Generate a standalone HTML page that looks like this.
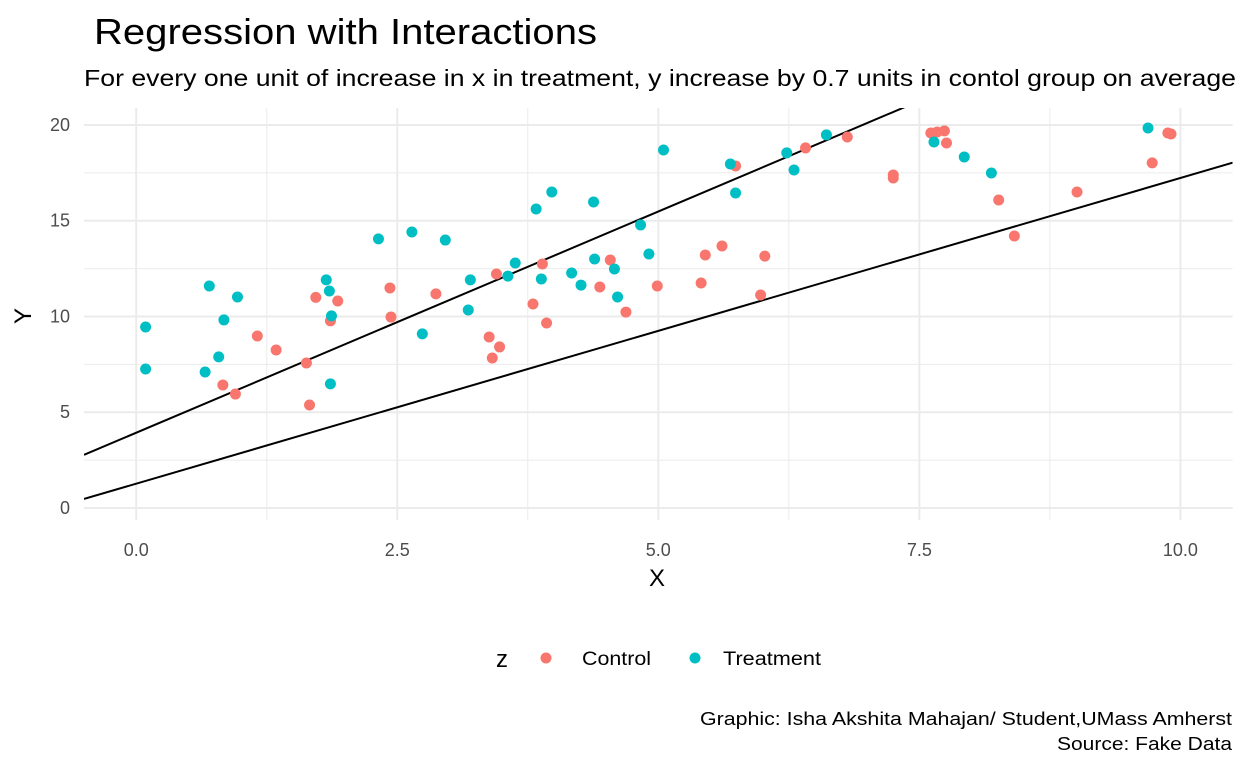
<!DOCTYPE html>
<html><head><meta charset="utf-8"><style>
body{margin:0;background:#fff;}
svg{display:block;font-family:"Liberation Sans",Arial,sans-serif;}
</style></head><body>
<svg id="chart" width="1248" height="768" viewBox="0 0 1248 768">
<text x="94" y="44" font-size="36" textLength="503" lengthAdjust="spacingAndGlyphs" fill="#000">Regression with Interactions</text>
<text x="84" y="86" font-size="23" textLength="1152" lengthAdjust="spacingAndGlyphs" fill="#000">For every one unit of increase in x in treatment, y increase by 0.7 units in contol group on average</text>
<g id="grid"></g>
<g id="lines"></g>
<g id="points"></g>
<g id="ticks"></g>
<text x="657" y="586" font-size="24" text-anchor="middle" fill="#000">X</text>
<text transform="translate(31,316) rotate(-90)" font-size="24" text-anchor="middle" fill="#000">Y</text>
<g>
<text x="496" y="667" font-size="24" fill="#000">z</text>
<circle cx="546" cy="658" r="5.5" fill="#F8766D"/>
<text x="582" y="665" font-size="19" textLength="69" lengthAdjust="spacingAndGlyphs" fill="#000">Control</text>
<circle cx="695" cy="658" r="5.5" fill="#00BFC4"/>
<text x="723" y="665" font-size="19" textLength="98" lengthAdjust="spacingAndGlyphs" fill="#000">Treatment</text>
</g>
<text x="1232" y="725" font-size="18" textLength="532" lengthAdjust="spacingAndGlyphs" text-anchor="end" fill="#000">Graphic: Isha Akshita Mahajan/ Student,UMass Amherst</text>
<text x="1232" y="750" font-size="18" textLength="175" lengthAdjust="spacingAndGlyphs" text-anchor="end" fill="#000">Source: Fake Data</text>
</svg>
<script>
const controlX=[0.83,0.95,1.16,1.34,1.63,1.66,1.72,1.86,1.93,2.43,2.44,2.87,3.38,3.41,3.48,3.45,3.80,3.89,3.93,4.44,4.54,4.69,4.99,5.41,5.45,5.61,5.74,5.98,6.02,6.41,6.81,7.25,7.25,7.61,7.67,7.74,7.76,8.26,8.41,9.01,9.73,9.88,9.91];
const controlY=[6.42,5.95,8.98,8.25,7.57,5.38,11.0,9.77,10.81,11.49,9.97,11.18,8.93,7.83,8.41,12.22,10.65,12.74,9.66,11.54,12.95,10.23,11.59,11.75,13.21,13.68,17.86,11.12,13.15,18.80,19.37,17.39,17.23,19.58,19.63,19.69,19.06,16.08,14.20,16.50,18.02,19.58,19.53];
const treatX=[0.09,0.09,0.66,0.70,0.79,0.84,0.97,1.82,1.85,1.86,1.87,2.32,2.64,2.74,2.96,3.18,3.20,3.56,3.63,3.83,3.88,3.98,4.17,4.26,4.38,4.39,4.58,4.61,4.83,4.91,5.05,5.69,5.74,6.23,6.30,6.61,7.64,7.93,8.19,9.69];
const treatY=[9.45,7.26,7.10,11.59,7.89,9.82,11.02,11.91,11.33,6.48,10.03,14.05,14.41,9.09,13.99,10.34,11.91,12.11,12.79,15.61,11.96,16.50,12.27,11.64,15.98,13.00,12.48,11.02,14.78,13.26,18.69,17.96,16.45,18.54,17.65,19.48,19.11,18.33,17.49,19.84];
const lineIntercepts=[3.93,1.27];
const lineSlopes=[2.31,1.596];
const xTicks=[0,2.5,5,7.5,10];
const xTickLabels=["0.0","2.5","5.0","7.5","10.0"];
const yTicks=[0,5,10,15,20];
const yTickLabels=["0","5","10","15","20"];

const X0=-0.5,X1=10.5,PX0=84,PX1=1232.6;
const Y0=-0.6,Y1=21.0,PY0=519.5,PY1=105.8;
const sx=v=>PX0+(v-X0)/(X1-X0)*(PX1-PX0);
const sy=v=>PY0+(v-Y0)/(Y1-Y0)*(PY1-PY0);
const NS="http://www.w3.org/2000/svg";
function mk(tag,attrs,parent){const e=document.createElementNS(NS,tag);for(const k in attrs)e.setAttribute(k,attrs[k]);parent.appendChild(e);return e;}
const grid=document.getElementById('grid');
const panelTop=108,panelBot=520;
for(let i=0;i<xTicks.length;i++){
  const mx=xTicks[i]+1.25;
  if(mx<X1){const m=mk('line',{x1:sx(mx),x2:sx(mx),y1:panelTop,y2:panelBot,stroke:'#ebebeb','stroke-width':1},grid);
  
  }
  const l=mk('line',{x1:sx(xTicks[i]),x2:sx(xTicks[i]),y1:panelTop,y2:panelBot,stroke:'#ebebeb','stroke-width':2},grid);
  
  
}
for(let i=0;i<yTicks.length;i++){
  const my=yTicks[i]+2.5;
  if(my<Y1){const m=mk('line',{x1:PX0,x2:PX1,y1:sy(my),y2:sy(my),stroke:'#ebebeb','stroke-width':1},grid);
  
  }
  const l=mk('line',{x1:PX0,x2:PX1,y1:sy(yTicks[i]),y2:sy(yTicks[i]),stroke:'#ebebeb','stroke-width':2},grid);
  
  
}
const ticks=document.getElementById('ticks');
for(let i=0;i<xTicks.length;i++){
  const t=mk('text',{x:sx(xTicks[i]),y:556,'font-size':18,'text-anchor':'middle',fill:'#4d4d4d'},ticks);
  t.textContent=xTickLabels[i];
  
  
}
for(let i=0;i<yTicks.length;i++){
  const t=mk('text',{x:70,y:sy(yTicks[i])+6,'font-size':18,'text-anchor':'end',fill:'#4d4d4d'},ticks);
  t.textContent=yTickLabels[i];
  
  
}
const lines=document.getElementById('lines');
const clip=mk('clipPath',{id:'pc'},lines);mk('rect',{x:PX0,y:panelTop,width:PX1-PX0,height:panelBot-panelTop},clip);
for(let i=0;i<lineSlopes.length;i++){
  const l=mk('line',{x1:sx(X0),y1:sy(lineIntercepts[i]+lineSlopes[i]*X0),x2:sx(X1),y2:sy(lineIntercepts[i]+lineSlopes[i]*X1),stroke:'#000','stroke-width':2,'clip-path':'url(#pc)'},lines);
  
  
}
const pts=document.getElementById('points');
for(let i=0;i<controlX.length;i++){
  const c=mk('circle',{cx:sx(controlX[i]),cy:sy(controlY[i]),r:5.5,fill:'#F8766D'},pts);
  
  
}
for(let i=0;i<treatX.length;i++){
  const c=mk('circle',{cx:sx(treatX[i]),cy:sy(treatY[i]),r:5.5,fill:'#00BFC4'},pts);
  
  
}
</script>
</body></html>
